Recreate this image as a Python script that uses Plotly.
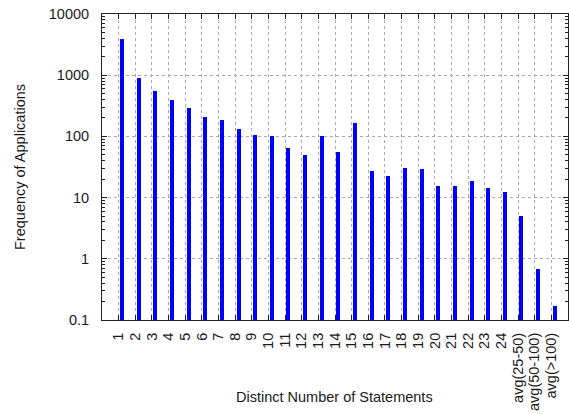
import plotly.graph_objects as go

# Distinct statement counts (categories) and how many applications use each
categories = [str(i) for i in range(1, 25)] + ["avg(25-50)", "avg(50-100)", "avg(>100)"]
frequencies = [3850, 890, 560, 394, 288, 210, 183, 134, 106, 101,
               64.6, 48.9, 101, 56, 167, 27.2, 22.7, 31, 29, 15.5,
               15.5, 18.5, 14.4, 12.5, 5.1, 0.67, 0.172]
ytick_vals = [0.1, 1, 10, 100, 1000, 10000]
ytick_text = ["0.1", "1", "10", "100", "1000", "10000"]

positions = list(range(1, len(categories) + 1))
font = dict(family="Liberation Sans, Arial, sans-serif", size=14.5, color="#1a1a1a")

fig = go.Figure(
    go.Bar(
        x=positions,
        y=frequencies,
        offset=0.085,
        width=0.24,
        marker=dict(color="#0000ff", line=dict(width=0)),
    )
)

fig.update_layout(
    width=569,
    height=414,
    margin=dict(l=102, r=1, t=14, b=94),
    paper_bgcolor="white",
    plot_bgcolor="white",
    font=font,
    showlegend=False,
    bargap=0,
    annotations=[
        dict(text="Distinct Number of Statements", xref="paper", yref="paper",
             x=0.498, y=-0.252, xanchor="center", yanchor="middle",
             showarrow=False, font=font),
        dict(text="Frequency of Applications", xref="paper", yref="paper",
             x=-0.176, y=0.5, xanchor="center", yanchor="middle",
             textangle=-90, showarrow=False, font=font),
    ],
)

fig.update_xaxes(
    range=[0, 28],
    tickmode="array",
    tickvals=positions,
    ticktext=categories,
    tickangle=-90,
    ticks="inside",
    ticklen=5,
    tickcolor="#222222",
    ticklabelstandoff=6,
    showline=True,
    linecolor="#222222",
    linewidth=1,
    mirror="ticks",
    showgrid=True,
    gridcolor="#aaaaaa",
    griddash="dot",
    gridwidth=1,
    zeroline=False,
    automargin=False,
    tickfont=font,
)

fig.update_yaxes(
    type="log",
    range=[-1, 4],
    tickmode="array",
    tickvals=ytick_vals,
    ticktext=ytick_text,
    ticks="inside",
    ticklen=5,
    tickcolor="#222222",
    ticklabelstandoff=9,
    minor=dict(ticks="inside", ticklen=3, tickcolor="#222222", dtick="D1", showgrid=False),
    showline=True,
    linecolor="#222222",
    linewidth=1,
    mirror="ticks",
    showgrid=True,
    gridcolor="#aaaaaa",
    griddash="dot",
    gridwidth=1,
    zeroline=False,
    automargin=False,
    tickfont=font,
)

fig.write_html("out.html")
